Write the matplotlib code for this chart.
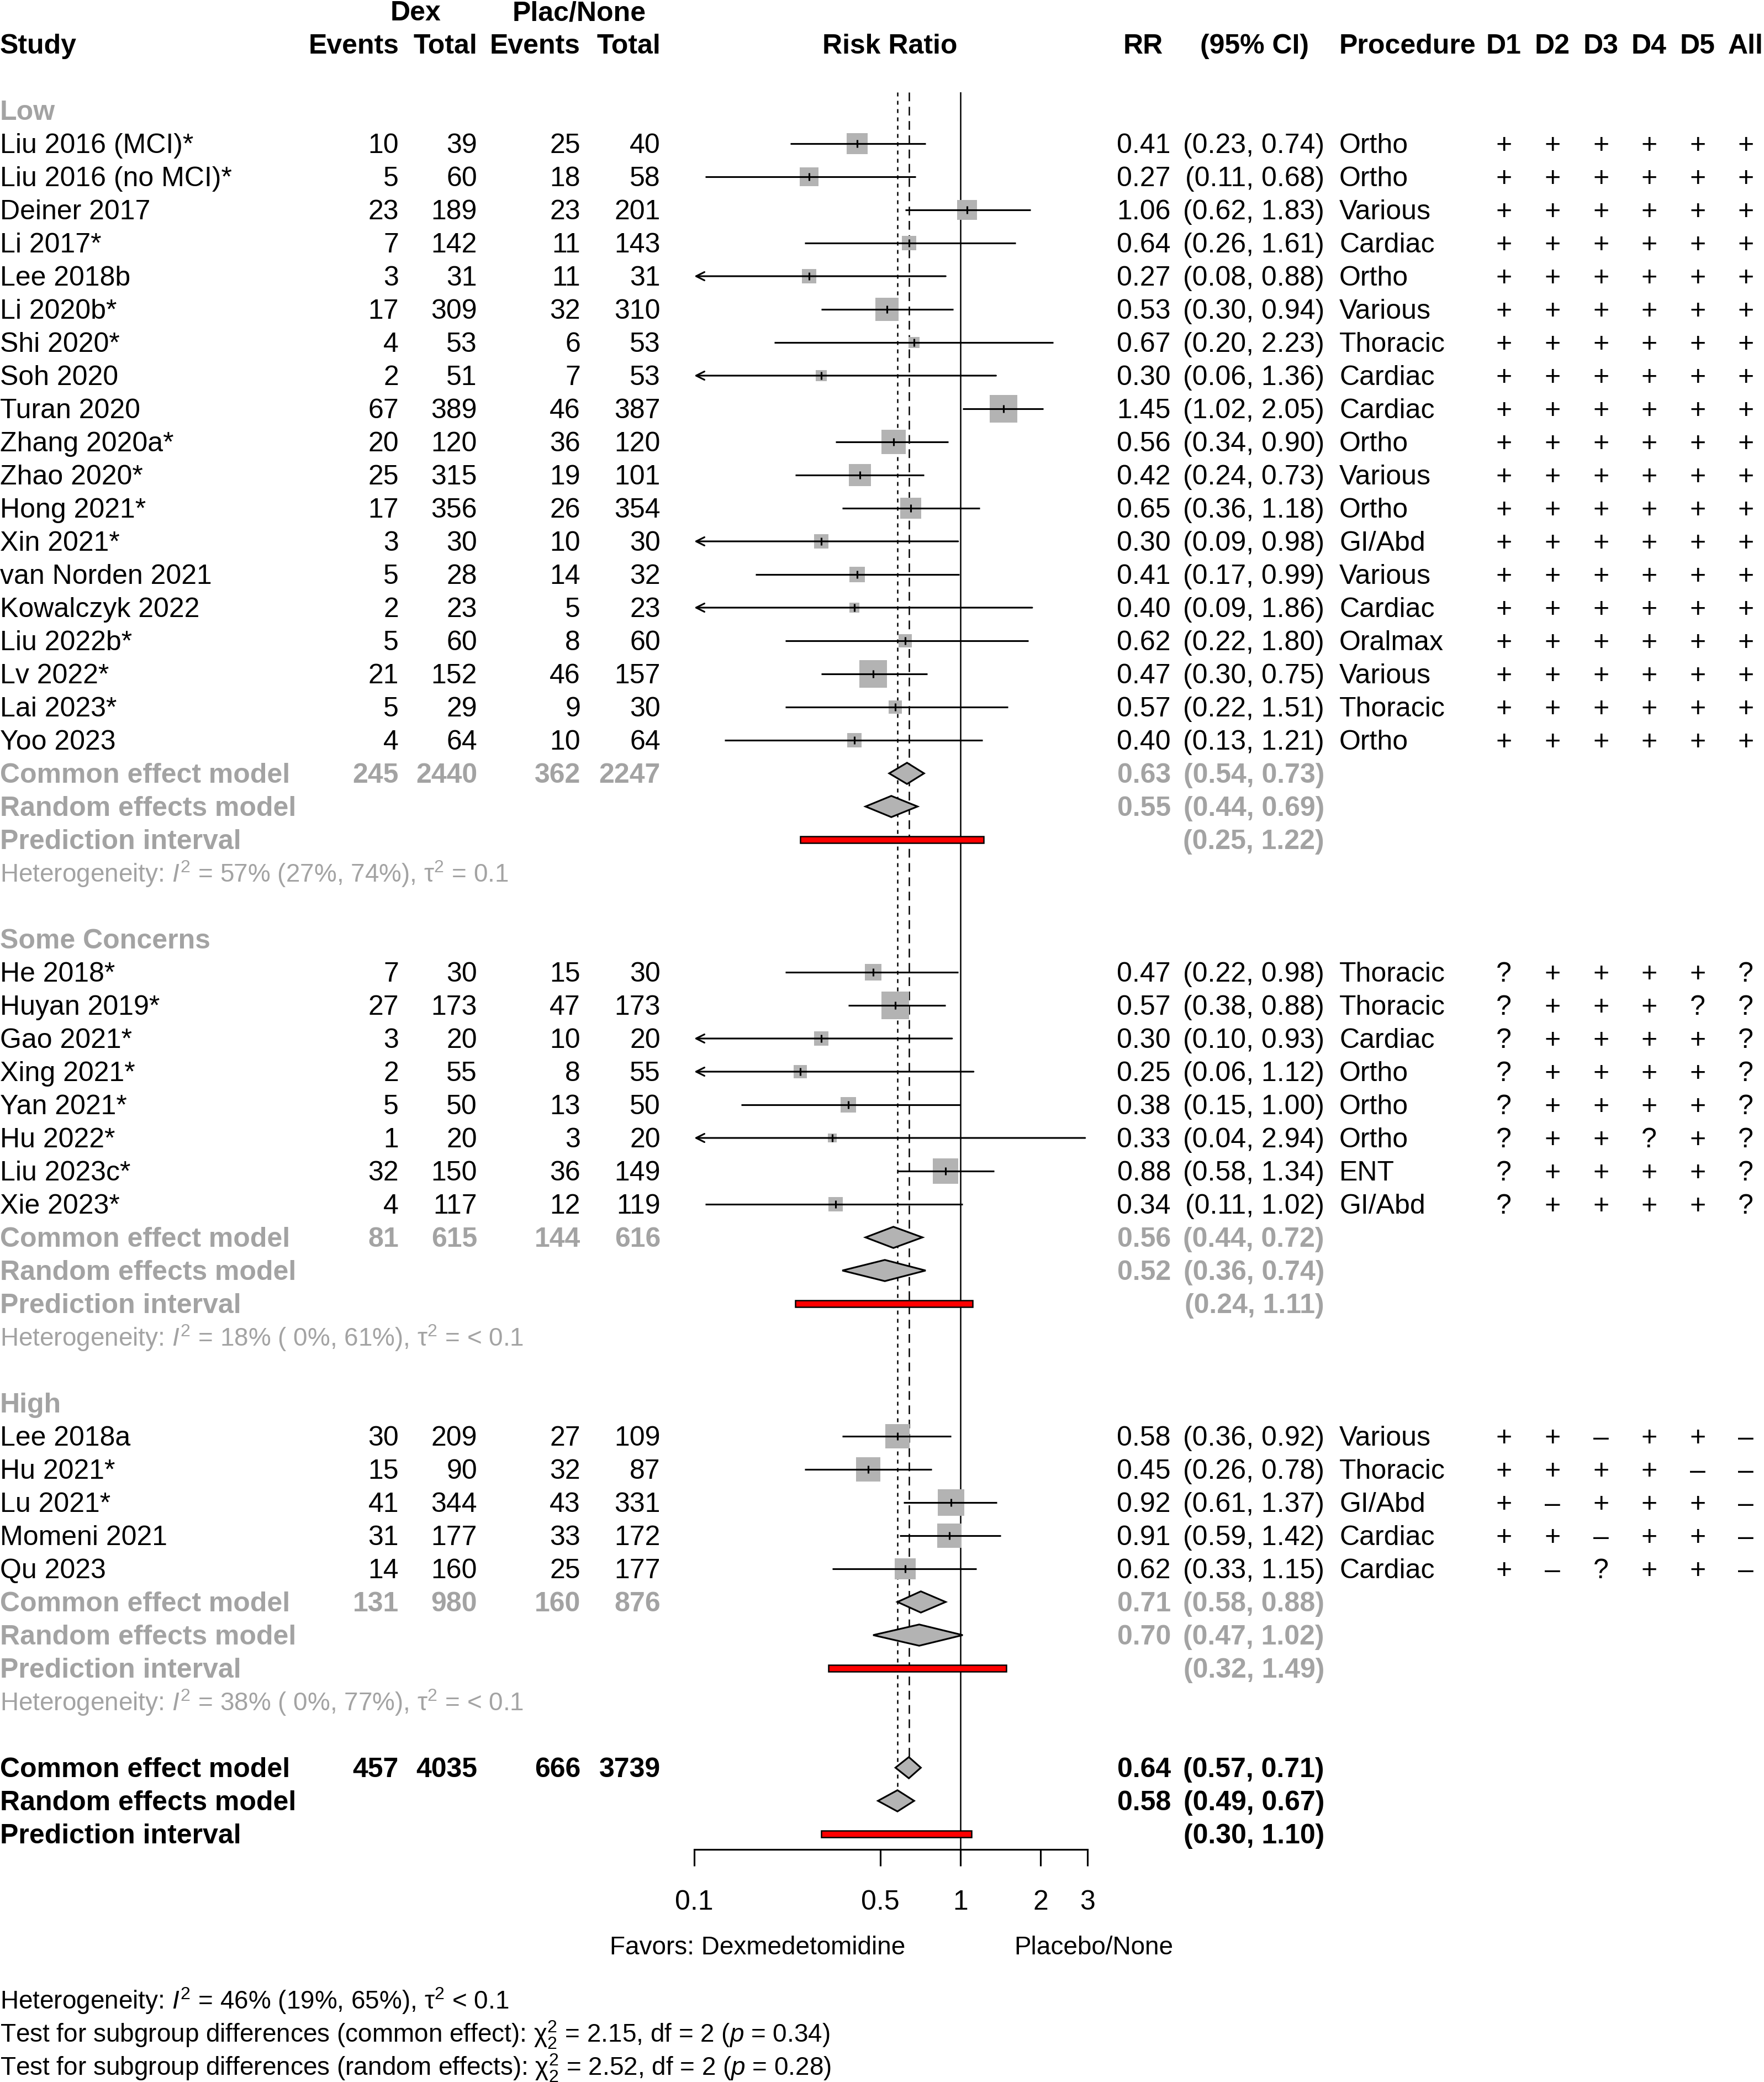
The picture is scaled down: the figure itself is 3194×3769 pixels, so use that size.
import numpy as np
import matplotlib.pyplot as plt

plt.rcParams['font.family'] = 'Liberation Sans'
plt.rcParams['font.size'] = 12
plt.rcParams['mathtext.fontset'] = 'custom'
plt.rcParams['mathtext.rm'] = 'Liberation Sans'
plt.rcParams['mathtext.it'] = 'Liberation Sans:italic'
plt.rcParams['mathtext.bf'] = 'Liberation Sans:bold'
plt.rcParams['lines.scale_dashes'] = False

# ---------------- data ----------------
groups = ['Low', 'Some Concerns', 'High']
study_group = [0] * 19 + [1] * 8 + [2] * 5

studies = ['Liu 2016 (MCI)*', 'Liu 2016 (no MCI)*', 'Deiner 2017', 'Li 2017*', 'Lee 2018b',
           'Li 2020b*', 'Shi 2020*', 'Soh 2020', 'Turan 2020', 'Zhang 2020a*', 'Zhao 2020*',
           'Hong 2021*', 'Xin 2021*', 'van Norden 2021', 'Kowalczyk 2022', 'Liu 2022b*',
           'Lv 2022*', 'Lai 2023*', 'Yoo 2023',
           'He 2018*', 'Huyan 2019*', 'Gao 2021*', 'Xing 2021*', 'Yan 2021*', 'Hu 2022*',
           'Liu 2023c*', 'Xie 2023*',
           'Lee 2018a', 'Hu 2021*', 'Lu 2021*', 'Momeni 2021', 'Qu 2023']
dex_events = [10, 5, 23, 7, 3, 17, 4, 2, 67, 20, 25, 17, 3, 5, 2, 5, 21, 5, 4,
              7, 27, 3, 2, 5, 1, 32, 4,
              30, 15, 41, 31, 14]
dex_total = [39, 60, 189, 142, 31, 309, 53, 51, 389, 120, 315, 356, 30, 28, 23, 60, 152, 29, 64,
             30, 173, 20, 55, 50, 20, 150, 117,
             209, 90, 344, 177, 160]
ctrl_events = [25, 18, 23, 11, 11, 32, 6, 7, 46, 36, 19, 26, 10, 14, 5, 8, 46, 9, 10,
               15, 47, 10, 8, 13, 3, 36, 12,
               27, 32, 43, 33, 25]
ctrl_total = [40, 58, 201, 143, 31, 310, 53, 53, 387, 120, 101, 354, 30, 32, 23, 60, 157, 30, 64,
              30, 173, 20, 55, 50, 20, 149, 119,
              109, 87, 331, 172, 177]
rr = [0.41, 0.27, 1.06, 0.64, 0.27, 0.53, 0.67, 0.30, 1.45, 0.56, 0.42, 0.65, 0.30, 0.41, 0.40,
      0.62, 0.47, 0.57, 0.40,
      0.47, 0.57, 0.30, 0.25, 0.38, 0.33, 0.88, 0.34,
      0.58, 0.45, 0.92, 0.91, 0.62]
rr_lo = [0.23, 0.11, 0.62, 0.26, 0.08, 0.30, 0.20, 0.06, 1.02, 0.34, 0.24, 0.36, 0.09, 0.17, 0.09,
         0.22, 0.30, 0.22, 0.13,
         0.22, 0.38, 0.097, 0.06, 0.15, 0.04, 0.58, 0.11,
         0.36, 0.26, 0.61, 0.59, 0.33]
rr_hi = [0.74, 0.68, 1.83, 1.61, 0.88, 0.94, 2.23, 1.36, 2.05, 0.90, 0.73, 1.18, 0.98, 0.99, 1.86,
         1.80, 0.75, 1.51, 1.21,
         0.98, 0.88, 0.93, 1.12, 1.00, 2.94, 1.34, 1.02,
         0.92, 0.78, 1.37, 1.42, 1.15]
weight = [13.7, 10.9, 13.0, 6.8, 6.5, 17.6, 4.0, 4.0, 25.0, 19.4, 16.0, 15.2, 6.3, 7.8, 3.2,
          5.3, 25.0, 5.8, 6.5,
          9.0, 26.0, 6.3, 5.3, 7.8, 2.3, 20.3, 7.0,
          19.4, 18.5, 24.0, 19.4, 13.7]
procedure = ['Ortho', 'Ortho', 'Various', 'Cardiac', 'Ortho', 'Various', 'Thoracic', 'Cardiac',
             'Cardiac', 'Ortho', 'Various', 'Ortho', 'GI/Abd', 'Various', 'Cardiac', 'Oralmax',
             'Various', 'Thoracic', 'Ortho',
             'Thoracic', 'Thoracic', 'Cardiac', 'Ortho', 'Ortho', 'Ortho', 'ENT', 'GI/Abd',
             'Various', 'Thoracic', 'GI/Abd', 'Cardiac', 'Cardiac']
rob = ['++++++'] * 19 + ['?++++?', '?+++??', '?++++?', '?++++?', '?++++?', '?++?+?', '?++++?', '?++++?',
                         '++-++-', '++++--', '+-+++-', '++-++-', '+-?++-']
rob_cols = ['D1', 'D2', 'D3', 'D4', 'D5', 'All']

grp_dex_events = [245, 81, 131]
grp_dex_total = [2440, 615, 980]
grp_ctrl_events = [362, 144, 160]
grp_ctrl_total = [2247, 616, 876]
grp_ce = [0.63, 0.56, 0.71]
grp_ce_lo = [0.54, 0.44, 0.58]
grp_ce_hi = [0.73, 0.72, 0.88]
grp_re = [0.55, 0.52, 0.70]
grp_re_lo = [0.44, 0.36, 0.47]
grp_re_hi = [0.69, 0.74, 1.02]
grp_pi_lo = [0.25, 0.24, 0.32]
grp_pi_hi = [1.22, 1.11, 1.49]
grp_i2 = [57, 18, 38]
grp_i2_lo = [27, 0, 0]
grp_i2_hi = [74, 61, 77]
grp_tau2 = ['= 0.1', '= < 0.1', '= < 0.1']

all_counts = [457, 4035, 666, 3739]
all_ce = [0.64, 0.57, 0.71]
all_re = [0.58, 0.49, 0.67]
all_pi = [0.30, 1.10]
all_het = 'Heterogeneity: $I^2$ = 46% (19%, 65%), $\\mathrm{\\tau}^2$ < 0.1'
subgroup_tests = ['Test for subgroup differences (common effect): $\\mathrm{\\chi}^2_2$ = 2.15, df = 2 ($p$ = 0.34)',
                  'Test for subgroup differences (random effects): $\\mathrm{\\chi}^2_2$ = 2.52, df = 2 ($p$ = 0.28)']

xticks = [0.1, 0.5, 1, 2, 3]

# ---------------- layout ----------------
W, H = 3194, 3769
GRAY = '#a3a3a3'
BOX = '#b3b3b3'


def ypix(row):
    return 200 + 60 * row


fig = plt.figure(figsize=(W / 300, H / 300), dpi=300)
tx = fig.add_axes([0, 0, 1, 1])
tx.set_xlim(0, W)
tx.set_ylim(H, 0)
tx.axis('off')

top_px, bot_px, left_px, right_px = 167, 3348, 1257, 1969
ax = fig.add_axes([left_px / W, (H - bot_px) / H, (right_px - left_px) / W, (bot_px - top_px) / H])
ax.patch.set_visible(False)
ax.set_xscale('log')
ax.set_xlim(0.1, 3)
ax.set_ylim((bot_px - 200) / 60, (top_px - 200) / 60)
for s in ['top', 'left', 'right']:
    ax.spines[s].set_visible(False)
ax.spines['bottom'].set_linewidth(0.75)
ax.set_yticks([])
ax.set_xticks(xticks)
ax.set_xticklabels(['%g' % t for t in xticks])
ax.minorticks_off()
ax.tick_params(axis='x', length=7.2, width=0.75, pad=10.3, labelsize=12)


def put(x, row, s, ha='left', color='black', weight='normal', size=12):
    tx.text(x, ypix(row) + 17, s, ha=ha, va='baseline', color=color, fontweight=weight,
            fontsize=size)


X_EV1, X_TOT1, X_EV2, X_TOT2 = 722, 864, 1051, 1196
X_RR, X_CI, X_PROC = 2120, 2398, 2425
X_ROB = [2723, 2811, 2899, 2986, 3074, 3161]

# headers
put(752, -3, 'Dex', ha='center', weight='bold')
put(1049, -3, 'Plac/None', ha='center', weight='bold')
put(0, -2, 'Study', weight='bold')
put(X_EV1, -2, 'Events', ha='right', weight='bold')
put(X_TOT1, -2, 'Total', ha='right', weight='bold')
put(X_EV2, -2, 'Events', ha='right', weight='bold')
put(X_TOT2, -2, 'Total', ha='right', weight='bold')
put(1611, -2, 'Risk Ratio', ha='center', weight='bold')
put(2106, -2, 'RR', ha='right', weight='bold')
put(2370, -2, '(95% CI)', ha='right', weight='bold')
put(X_PROC, -2, 'Procedure', weight='bold')
for x, c in zip(X_ROB, rob_cols):
    put(x, -2, c, ha='center', weight='bold')


def diamond(row, est, lo, hi):
    ax.fill([lo, est, hi, est], [row, row - 0.32, row, row + 0.32], facecolor=BOX,
            edgecolor='black', lw=0.75, zorder=5)


def pred(row, lo, hi):
    ax.barh(row, hi - lo, left=lo, height=0.2, color='red', edgecolor='black', lw=0.6, zorder=5)


row = 0
for g, gname in enumerate(groups):
    put(0, row, gname, color=GRAY, weight='bold')
    row += 1
    for i in [k for k in range(len(studies)) if study_group[k] == g]:
        put(0, row, studies[i])
        put(X_EV1, row, str(dex_events[i]), ha='right')
        put(X_TOT1, row, str(dex_total[i]), ha='right')
        put(X_EV2, row, str(ctrl_events[i]), ha='right')
        put(X_TOT2, row, str(ctrl_total[i]), ha='right')
        put(X_RR, row, '%.2f' % rr[i], ha='right')
        put(X_CI, row, '(%.2f, %.2f)' % (rr_lo[i], rr_hi[i]), ha='right')
        put(X_PROC, row, procedure[i])
        for x, sym in zip(X_ROB, rob[i]):
            put(x, row, sym.replace('-', '\u2013'), ha='center')
        side_pt = 10 * np.sqrt(weight[i]) * 72 / 300
        ax.scatter([rr[i]], [row], s=side_pt ** 2, marker='s', color=BOX, linewidths=0, zorder=3)
        if rr_lo[i] < 0.1:
            ax.annotate('', xy=(0.1, row), xytext=(rr_hi[i], row),
                        arrowprops=dict(arrowstyle='->', lw=0.75, shrinkA=0, shrinkB=0,
                                        mutation_scale=9, color='black'), zorder=4)
        else:
            ax.hlines(row, rr_lo[i], rr_hi[i], color='black', lw=0.75, zorder=4)
        ax.vlines(rr[i], row - 0.117, row + 0.117, color='black', lw=0.75, zorder=4)
        row += 1
    # pooled rows
    put(0, row, 'Common effect model', color=GRAY, weight='bold')
    put(X_EV1, row, str(grp_dex_events[g]), ha='right', color=GRAY, weight='bold')
    put(X_TOT1, row, str(grp_dex_total[g]), ha='right', color=GRAY, weight='bold')
    put(X_EV2, row, str(grp_ctrl_events[g]), ha='right', color=GRAY, weight='bold')
    put(X_TOT2, row, str(grp_ctrl_total[g]), ha='right', color=GRAY, weight='bold')
    put(X_RR, row, '%.2f' % grp_ce[g], ha='right', color=GRAY, weight='bold')
    put(X_CI, row, '(%.2f, %.2f)' % (grp_ce_lo[g], grp_ce_hi[g]), ha='right', color=GRAY, weight='bold')
    diamond(row, grp_ce[g], grp_ce_lo[g], grp_ce_hi[g])
    row += 1
    put(0, row, 'Random effects model', color=GRAY, weight='bold')
    put(X_RR, row, '%.2f' % grp_re[g], ha='right', color=GRAY, weight='bold')
    put(X_CI, row, '(%.2f, %.2f)' % (grp_re_lo[g], grp_re_hi[g]), ha='right', color=GRAY, weight='bold')
    diamond(row, grp_re[g], grp_re_lo[g], grp_re_hi[g])
    row += 1
    put(0, row, 'Prediction interval', color=GRAY, weight='bold')
    put(X_CI, row, '(%.2f, %.2f)' % (grp_pi_lo[g], grp_pi_hi[g]), ha='right', color=GRAY, weight='bold')
    pred(row, grp_pi_lo[g], grp_pi_hi[g])
    row += 1
    put(0, row, 'Heterogeneity: $I^2$ = %d%% (%2d%%, %d%%), $\\mathrm{\\tau}^2$ %s'
        % (grp_i2[g], grp_i2_lo[g], grp_i2_hi[g], grp_tau2[g]), color=GRAY, size=11)
    row += 2

# overall
put(0, row, 'Common effect model', weight='bold')
for x, v in zip([X_EV1, X_TOT1, X_EV2, X_TOT2], all_counts):
    put(x, row, str(v), ha='right', weight='bold')
put(X_RR, row, '%.2f' % all_ce[0], ha='right', weight='bold')
put(X_CI, row, '(%.2f, %.2f)' % (all_ce[1], all_ce[2]), ha='right', weight='bold')
diamond(row, *all_ce)
ax.vlines(all_ce[0], (top_px - 200) / 60, row, color='black', lw=0.6,
          linestyles=(0, (3.8, 2.4)), zorder=1)
row += 1
put(0, row, 'Random effects model', weight='bold')
put(X_RR, row, '%.2f' % all_re[0], ha='right', weight='bold')
put(X_CI, row, '(%.2f, %.2f)' % (all_re[1], all_re[2]), ha='right', weight='bold')
diamond(row, *all_re)
ax.vlines(all_re[0], (top_px - 200) / 60, row, color='black', lw=0.6,
          linestyles=(0, (1.7, 1.9)), zorder=1)
row += 1
put(0, row, 'Prediction interval', weight='bold')
put(X_CI, row, '(%.2f, %.2f)' % (all_pi[0], all_pi[1]), ha='right', weight='bold')
pred(row, all_pi[0], all_pi[1])

ax.axvline(1, color='black', lw=0.6, zorder=1)

# labels under the forest
tx.text(1639, 3538, 'Favors: Dexmedetomidine', ha='right', va='baseline', fontsize=11)
tx.text(1836, 3538, 'Placebo/None', ha='left', va='baseline', fontsize=11)

put(0, 57, all_het, size=11)
put(0, 58, subgroup_tests[0], size=11)
put(0, 59, subgroup_tests[1], size=11)

fig.savefig('out.png', dpi=300)
plt.close()
